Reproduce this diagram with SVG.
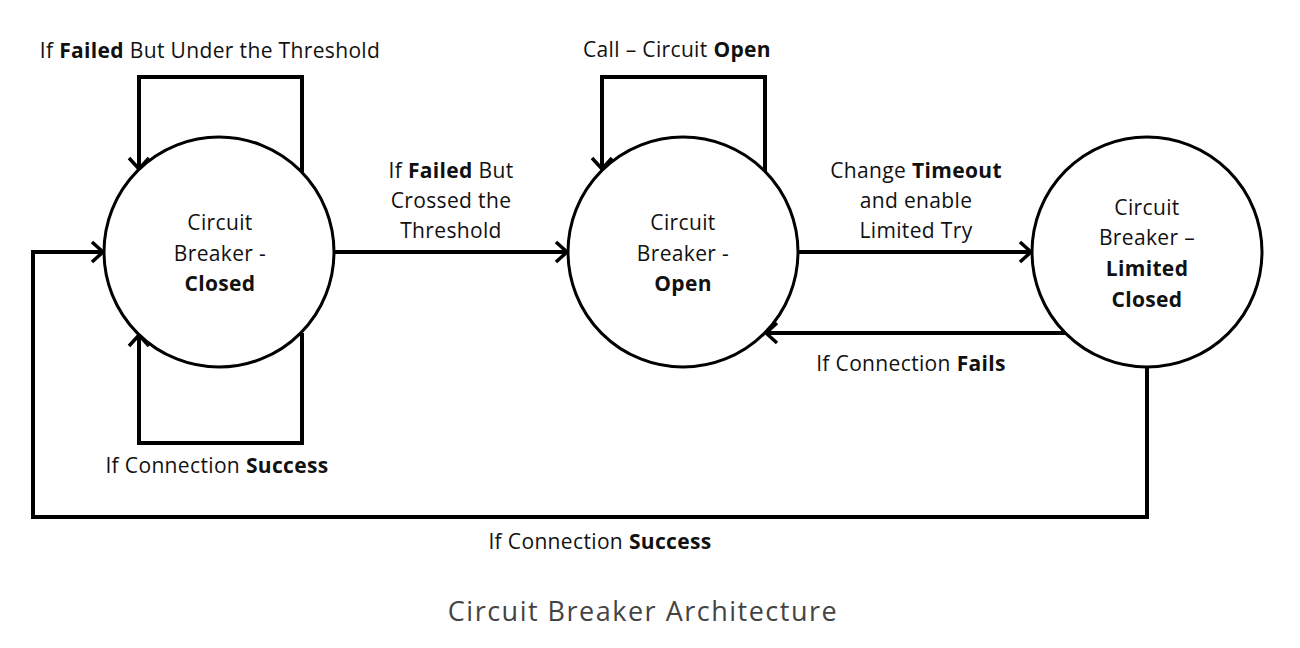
<svg xmlns="http://www.w3.org/2000/svg" width="1300" height="648" viewBox="0 0 1300 648">
<style>
.node{fill:#fff;stroke:#000;stroke-width:3}
.edge{fill:none;stroke:#000;stroke-width:4}
.t{font-family:"Open Sans","DejaVu Sans",sans-serif;font-size:21px;letter-spacing:0.35px;fill:#111;text-anchor:middle}
.b{font-weight:bold}
.cap{font-family:"Open Sans","Lato",sans-serif;font-size:27px;letter-spacing:1.5px;fill:#444;text-anchor:middle}
</style>
<defs>
<marker id="ah" markerUnits="userSpaceOnUse" markerWidth="16" markerHeight="24" refX="14" refY="12" orient="auto">
<path d="M3,2 L14,12 L3,22" fill="none" stroke="#000" stroke-width="3.5"/>
</marker>
</defs>
<rect width="1300" height="648" fill="#fff"/>
<g id="connectors">
<path class="edge" d="M302,172 V77 H139 V169" marker-end="url(#ah)"/>
<path class="edge" d="M302,333 V443 H139 V335" marker-end="url(#ah)"/>
<path class="edge" d="M335,252 H567" marker-end="url(#ah)"/>
<path class="edge" d="M765,172 V77 H602 V169" marker-end="url(#ah)"/>
<path class="edge" d="M798,252 H1031" marker-end="url(#ah)"/>
<path class="edge" d="M1065,333 H766" marker-end="url(#ah)"/>
<path class="edge" d="M1147,367 V517 H33 V252 H103" marker-end="url(#ah)"/>
</g>
<g id="closed">
<circle class="node" cx="219" cy="252" r="115"/>
<text class="t" x="220" y="230">Circuit</text>
<text class="t" x="220" y="261">Breaker -</text>
<text class="t b" x="220" y="291">Closed</text>
</g>
<g id="open">
<circle class="node" cx="683" cy="252" r="115"/>
<text class="t" x="683" y="230">Circuit</text>
<text class="t" x="683" y="261">Breaker -</text>
<text class="t b" x="683" y="291">Open</text>
</g>
<g id="limited">
<circle class="node" cx="1147" cy="252" r="115"/>
<text class="t" x="1147" y="215">Circuit</text>
<text class="t" x="1147" y="245">Breaker –</text>
<text class="t b" x="1147" y="276">Limited</text>
<text class="t b" x="1147" y="307">Closed</text>
</g>
<g id="labels">
<text class="t" x="210" y="58">If <tspan class="b">Failed</tspan> But Under the Threshold</text>
<text class="t" x="677" y="57">Call – Circuit <tspan class="b">Open</tspan></text>
<text class="t" x="451" y="178">If <tspan class="b">Failed</tspan> But</text>
<text class="t" x="451" y="208">Crossed the</text>
<text class="t" x="451" y="238">Threshold</text>
<text class="t" x="916" y="178">Change <tspan class="b">Timeout</tspan></text>
<text class="t" x="916" y="208">and enable</text>
<text class="t" x="916" y="238">Limited Try</text>
<text class="t" x="911" y="371">If Connection <tspan class="b">Fails</tspan></text>
<text class="t" x="217" y="473">If Connection <tspan class="b">Success</tspan></text>
<text class="t" x="600" y="549">If Connection <tspan class="b">Success</tspan></text>
</g>
<text class="cap" x="643" y="621">Circuit Breaker Architecture</text>
</svg>
